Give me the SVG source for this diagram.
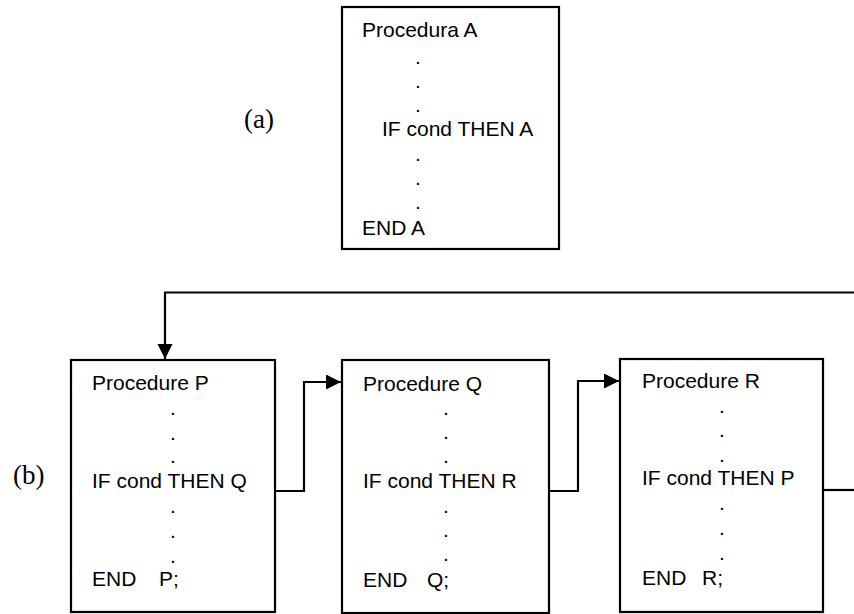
<svg xmlns="http://www.w3.org/2000/svg" width="854" height="614" viewBox="0 0 854 614">
<style>
.box{fill:#fff;stroke:#000;stroke-width:2.2}
.t{font-family:"Liberation Sans",Arial,sans-serif;font-size:21px;fill:#000}
.lbl{font-family:"Liberation Serif","Times New Roman",serif;font-size:27px;fill:#000}
.con{fill:none;stroke:#000;stroke-width:2.2}
</style>
<defs>
<marker id="arr" markerUnits="userSpaceOnUse" markerWidth="16" markerHeight="16" refX="15" refY="7.5" orient="auto">
<path d="M0,0 L15,7.5 L0,15 z" fill="#000"/>
</marker>
</defs>
<rect width="854" height="614" fill="#fff"/>
<text class="lbl" x="244" y="128">(a)</text>
<text class="lbl" x="13" y="484">(b)</text>
<g id="procA">
<rect class="box" x="342" y="7" width="217" height="242"/>
<text class="t" x="362" y="37">Procedura A</text>
<text class="t" x="415" y="64">.</text>
<text class="t" x="415" y="88">.</text>
<text class="t" x="415" y="112">.</text>
<text class="t" x="382" y="136">IF cond THEN A</text>
<text class="t" x="415" y="161">.</text>
<text class="t" x="415" y="185">.</text>
<text class="t" x="415" y="209">.</text>
<text class="t" x="362" y="235">END A</text>
</g>
<g id="procP">
<rect class="box" x="71" y="360" width="204" height="252"/>
<text class="t" x="92" y="390">Procedure P</text>
<text class="t" x="170" y="415">.</text>
<text class="t" x="170" y="440">.</text>
<text class="t" x="170" y="463">.</text>
<text class="t" x="92" y="488">IF cond THEN Q</text>
<text class="t" x="170" y="513">.</text>
<text class="t" x="170" y="538">.</text>
<text class="t" x="170" y="563">.</text>
<text class="t" x="92" y="586">END<tspan x="159">P;</tspan></text>
</g>
<g id="procQ">
<rect class="box" x="342" y="360" width="207" height="253"/>
<text class="t" x="363" y="391">Procedure Q</text>
<text class="t" x="443" y="415">.</text>
<text class="t" x="443" y="439">.</text>
<text class="t" x="443" y="463">.</text>
<text class="t" x="363" y="488">IF cond THEN R</text>
<text class="t" x="443" y="513">.</text>
<text class="t" x="443" y="537">.</text>
<text class="t" x="443" y="561">.</text>
<text class="t" x="363" y="587">END<tspan x="427">Q;</tspan></text>
</g>
<g id="procR">
<rect class="box" x="620" y="359" width="203" height="253"/>
<text class="t" x="642" y="388">Procedure R</text>
<text class="t" x="719" y="413">.</text>
<text class="t" x="719" y="437">.</text>
<text class="t" x="719" y="462">.</text>
<text class="t" x="642" y="485">IF cond THEN P</text>
<text class="t" x="719" y="510">.</text>
<text class="t" x="719" y="535">.</text>
<text class="t" x="719" y="560">.</text>
<text class="t" x="642" y="585">END<tspan x="702">R;</tspan></text>
</g>
<g id="connectors">
<path class="con" d="M854,292.5 H165 V359" marker-end="url(#arr)"/>
<path class="con" d="M275,491 H304 V382 H341" marker-end="url(#arr)"/>
<path class="con" d="M549,491 H578 V381 H619" marker-end="url(#arr)"/>
<path class="con" d="M823,490 H854"/>
</g>
</svg>
